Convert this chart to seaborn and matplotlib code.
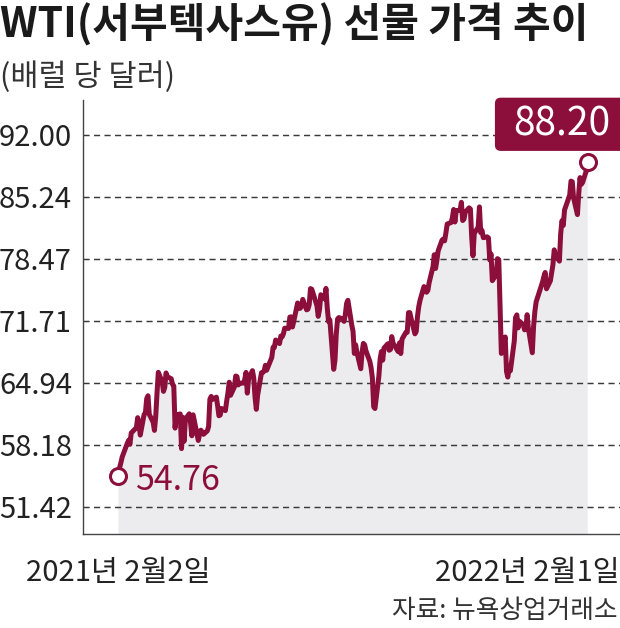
import matplotlib
matplotlib.use('Agg')
import matplotlib.pyplot as plt
import matplotlib.transforms as mtransforms
from matplotlib.patches import BoxStyle
import seaborn as sns
import pandas as pd

# ---- data (WTI front-month close, USD per barrel) ----
dates = [
    '2021-02-02', '2021-02-03', '2021-02-04', '2021-02-05', '2021-02-08', '2021-02-09', '2021-02-10',
    '2021-02-11', '2021-02-12', '2021-02-16', '2021-02-17', '2021-02-18', '2021-02-19', '2021-02-22',
    '2021-02-23', '2021-02-24', '2021-02-25', '2021-02-26',
    '2021-03-01', '2021-03-02', '2021-03-03', '2021-03-04', '2021-03-05', '2021-03-08', '2021-03-09',
    '2021-03-10', '2021-03-11', '2021-03-12', '2021-03-15', '2021-03-16', '2021-03-17', '2021-03-18',
    '2021-03-19', '2021-03-22', '2021-03-23', '2021-03-24', '2021-03-25', '2021-03-26', '2021-03-29',
    '2021-03-30', '2021-03-31',
    '2021-04-01', '2021-04-05', '2021-04-06', '2021-04-07', '2021-04-08', '2021-04-09', '2021-04-12',
    '2021-04-13', '2021-04-14', '2021-04-15', '2021-04-16', '2021-04-19', '2021-04-20', '2021-04-21',
    '2021-04-22', '2021-04-23', '2021-04-26', '2021-04-27', '2021-04-28', '2021-04-29', '2021-04-30',
    '2021-05-03', '2021-05-04', '2021-05-05', '2021-05-06', '2021-05-07', '2021-05-10', '2021-05-11',
    '2021-05-12', '2021-05-13', '2021-05-14', '2021-05-17', '2021-05-18', '2021-05-19', '2021-05-20',
    '2021-05-21', '2021-05-24', '2021-05-25', '2021-05-26', '2021-05-27', '2021-05-28',
    '2021-06-01', '2021-06-02', '2021-06-03', '2021-06-04', '2021-06-07', '2021-06-08', '2021-06-09',
    '2021-06-10', '2021-06-11', '2021-06-14', '2021-06-15', '2021-06-16', '2021-06-17', '2021-06-18',
    '2021-06-21', '2021-06-22', '2021-06-23', '2021-06-24', '2021-06-25', '2021-06-28', '2021-06-29',
    '2021-06-30',
    '2021-07-01', '2021-07-02', '2021-07-06', '2021-07-07', '2021-07-08', '2021-07-09', '2021-07-12',
    '2021-07-13', '2021-07-14', '2021-07-15', '2021-07-16', '2021-07-19', '2021-07-20', '2021-07-21',
    '2021-07-22', '2021-07-23', '2021-07-26', '2021-07-27', '2021-07-28', '2021-07-29', '2021-07-30',
    '2021-08-02', '2021-08-03', '2021-08-04', '2021-08-05', '2021-08-06', '2021-08-09', '2021-08-10',
    '2021-08-11', '2021-08-12', '2021-08-13', '2021-08-16', '2021-08-17', '2021-08-18', '2021-08-19',
    '2021-08-20', '2021-08-23', '2021-08-24', '2021-08-25', '2021-08-26', '2021-08-27', '2021-08-30',
    '2021-08-31',
    '2021-09-01', '2021-09-02', '2021-09-03', '2021-09-07', '2021-09-08', '2021-09-09', '2021-09-10',
    '2021-09-13', '2021-09-14', '2021-09-15', '2021-09-16', '2021-09-17', '2021-09-20', '2021-09-21',
    '2021-09-22', '2021-09-23', '2021-09-24', '2021-09-27', '2021-09-28', '2021-09-29', '2021-09-30',
    '2021-10-01', '2021-10-04', '2021-10-05', '2021-10-06', '2021-10-07', '2021-10-08', '2021-10-11',
    '2021-10-12', '2021-10-13', '2021-10-14', '2021-10-15', '2021-10-18', '2021-10-19', '2021-10-20',
    '2021-10-21', '2021-10-22', '2021-10-25', '2021-10-26', '2021-10-27', '2021-10-28', '2021-10-29',
    '2021-11-01', '2021-11-02', '2021-11-03', '2021-11-04', '2021-11-05', '2021-11-08', '2021-11-09',
    '2021-11-10', '2021-11-11', '2021-11-12', '2021-11-15', '2021-11-16', '2021-11-17', '2021-11-18',
    '2021-11-19', '2021-11-22', '2021-11-23', '2021-11-24', '2021-11-26', '2021-11-29', '2021-11-30',
    '2021-12-01', '2021-12-02', '2021-12-03', '2021-12-06', '2021-12-07', '2021-12-08', '2021-12-09',
    '2021-12-10', '2021-12-13', '2021-12-14', '2021-12-15', '2021-12-16', '2021-12-17', '2021-12-20',
    '2021-12-21', '2021-12-22', '2021-12-23', '2021-12-27', '2021-12-28', '2021-12-29', '2021-12-30',
    '2021-12-31',
    '2022-01-03', '2022-01-04', '2022-01-05', '2022-01-06', '2022-01-07', '2022-01-10', '2022-01-11',
    '2022-01-12', '2022-01-13', '2022-01-14', '2022-01-18', '2022-01-19', '2022-01-20', '2022-01-21',
    '2022-01-24', '2022-01-25', '2022-01-26', '2022-01-27', '2022-01-28', '2022-01-31', '2022-02-01',
]
prices = [
    54.76, 55.69, 56.23, 56.85, 57.97, 58.36, 58.68,
    58.24, 59.47, 60.05, 61.14, 60.52, 59.24, 61.49,
    61.67, 63.22, 63.53, 61.50,
    60.64, 59.75, 61.28, 63.83, 66.09, 65.05, 64.01,
    64.44, 66.02, 65.61, 65.39, 64.80, 64.60, 60.00,
    61.42, 61.55, 57.76, 61.18, 58.56, 60.97, 61.56,
    60.55, 59.16,
    61.45, 58.65, 59.33, 59.77, 59.60, 59.32, 59.70,
    60.18, 63.15, 63.46, 63.13, 63.38, 62.44, 61.35,
    61.43, 62.14, 61.91, 62.94, 63.86, 65.01, 63.58,
    64.49, 65.69, 65.63, 64.71, 64.90, 64.92, 65.28,
    66.08, 63.82, 65.37, 66.27, 65.49, 63.36, 62.05,
    63.58, 66.05, 66.07, 66.21, 66.85, 66.32,
    67.72, 68.83, 68.81, 69.62, 69.23, 70.05, 69.96,
    70.29, 70.91, 70.88, 72.12, 72.15, 71.04, 71.64,
    73.66, 73.06, 73.08, 73.30, 74.05, 72.91, 72.98,
    73.47,
    75.23, 75.16, 73.37, 72.20, 72.94, 74.56, 74.10,
    75.25, 73.13, 71.65, 71.81, 66.42, 67.42, 70.30,
    71.91, 72.07, 71.91, 71.65, 72.39, 73.62, 73.95,
    71.26, 70.56, 68.15, 69.09, 68.28, 66.48, 68.29,
    69.25, 69.09, 68.44, 67.29, 66.59, 65.46, 62.32,
    62.14, 65.64, 67.54, 68.36, 67.42, 68.74, 69.21,
    68.50,
    68.59, 69.99, 69.29, 68.35, 69.30, 68.14, 69.72,
    70.45, 70.46, 72.61, 72.61, 71.97, 70.29, 70.56,
    72.23, 73.30, 73.98, 75.45, 75.29, 74.83, 75.03,
    75.88, 77.62, 78.93, 77.43, 78.30, 79.35, 80.52,
    80.64, 80.44, 81.31, 82.28, 82.44, 82.96, 83.87,
    82.50, 83.76, 83.76, 84.65, 82.66, 82.81, 83.57,
    84.05, 83.91, 80.86, 78.81, 81.27, 81.93, 84.15,
    81.34, 81.59, 80.79, 80.88, 80.76, 78.36, 79.01,
    76.10, 76.75, 78.50, 78.39, 68.15, 69.95, 66.18,
    65.57, 66.50, 66.26, 69.49, 72.05, 72.36, 70.94,
    71.67, 71.29, 70.73, 70.87, 72.38, 70.86, 68.23,
    71.12, 72.76, 73.79, 75.57, 75.98, 76.56, 76.99,
    75.21,
    76.08, 76.99, 77.85, 79.46, 78.90, 78.23, 81.22,
    82.64, 82.12, 83.82, 85.43, 86.96, 86.90, 85.14,
    83.31, 85.60, 87.35, 86.61, 86.82, 88.15, 88.20,
]
y_ticks = [51.42, 58.18, 64.94, 71.71, 78.47, 85.24, 92.00]
y_tick_labels = ['51.42', '58.18', '64.94', '71.71', '78.47', '85.24', '92.00']
x_tick_dates = ['2021-02-02', '2022-02-01']
x_tick_labels = ['2021년 2월2일', '2022년 2월1일']
title = 'WTI(서부텍사스유) 선물 가격 추이'
unit_label = '(배럴 당 달러)'
source_label = '자료: 뉴욕상업거래소'
start_label = '54.76'
end_label = '88.20'

RED = '#8C0E3A'
FILL = '#ECECEE'

sns.set_theme(style='white')
plt.rcParams['font.family'] = ['Noto Sans CJK KR', 'DejaVu Sans']


def wide_round(x0, y0, width, height, mutation_size):
    padx = 0.46 * mutation_size
    pady = 0.17 * mutation_size
    return BoxStyle.Round(pad=0, rounding_size=0.15)(
        x0 - padx, y0 - pady, width + 2 * padx, height + 2 * pady, mutation_size)


df = pd.DataFrame({'date': pd.to_datetime(dates), 'price': prices})

fig = plt.figure(figsize=(6.2, 6.28), dpi=100)
fig.patch.set_facecolor('white')
ax = fig.add_axes([83 / 620, 94 / 628, 1 - 83 / 620, 434 / 628])
ax.set_facecolor('white')

ax.fill_between(df['date'], df['price'], 0, color=FILL, linewidth=0, zorder=1)
sns.lineplot(data=df, x='date', y='price', ax=ax, color=RED, linewidth=3.6,
             zorder=3, legend=False)
ax.lines[-1].set_solid_joinstyle('round')

start = df['date'].iloc[0]
ax.set_xlim(start - pd.Timedelta(days=27.4), start + pd.Timedelta(days=389))
ax.set_ylim(48.44, 95.82)

ax.set_yticks(y_ticks)
ax.set_yticklabels(y_tick_labels)
ax.set_xticks(pd.to_datetime(x_tick_dates))
ax.set_xticklabels(x_tick_labels)
ax.set_xlabel('')
ax.set_ylabel('')

ax.set_axisbelow('line')
ax.yaxis.grid(True, linestyle=(0, (4.2, 3.0)), color='#3a3a3a', linewidth=1.05)
ax.xaxis.grid(False)

for s in ['top', 'right']:
    ax.spines[s].set_visible(False)
for s in ['left', 'bottom']:
    ax.spines[s].set_color('#444444')
    ax.spines[s].set_linewidth(1.0)

ax.tick_params(axis='y', length=0, pad=8, labelsize=21, labelcolor='#222222')
ax.tick_params(axis='x', length=13, width=0.9, color='#444444', direction='out',
               pad=4, labelsize=21, labelcolor='#222222')

xl = ax.get_xticklabels()
xl[1].set_ha('right')
xl[1].set_transform(xl[1].get_transform() +
                    mtransforms.ScaledTranslation(0.32, 0, fig.dpi_scale_trans))

# start marker & label
first = df.iloc[0]
last = df.iloc[-1]
ax.plot([first['date']], [first['price']], marker='o', ms=11.5, mfc='white',
        mec=RED, mew=2.2, zorder=5, linestyle='none')
ax.annotate(start_label, xy=(first['date'], first['price']), xytext=(12, 0),
            textcoords='offset points', ha='left', va='center_baseline',
            color=RED, fontsize=24.5, zorder=6)

# end marker & label box
end_tr = ax.transData + mtransforms.ScaledTranslation(0, 0.08, fig.dpi_scale_trans)
ax.plot([last['date']], [last['price']], marker='o', ms=11.5, mfc='white',
        mec=RED, mew=2.2, zorder=5, linestyle='none', transform=end_tr, clip_on=False)
ax.annotate(end_label, xy=(last['date'], last['price']), xytext=(-19, 36),
            textcoords='offset points', ha='center', va='center_baseline',
            color='white', fontsize=28, zorder=6,
            bbox=dict(boxstyle=wide_round, fc=RED, ec='none'))

fig.text(0.0, 1 - 25 / 628, title, fontsize=29.5, weight='bold', ha='left',
         va='center', color='#1a1a1a')
fig.text(0.0, 1 - 77 / 628, unit_label, fontsize=22, ha='left', va='center',
         color='#333333')
fig.text(618 / 620, 1 - 611 / 628, source_label, fontsize=18.5, ha='right',
         va='center', color='#333333')

fig.savefig('out.png', dpi=100, facecolor='white')
